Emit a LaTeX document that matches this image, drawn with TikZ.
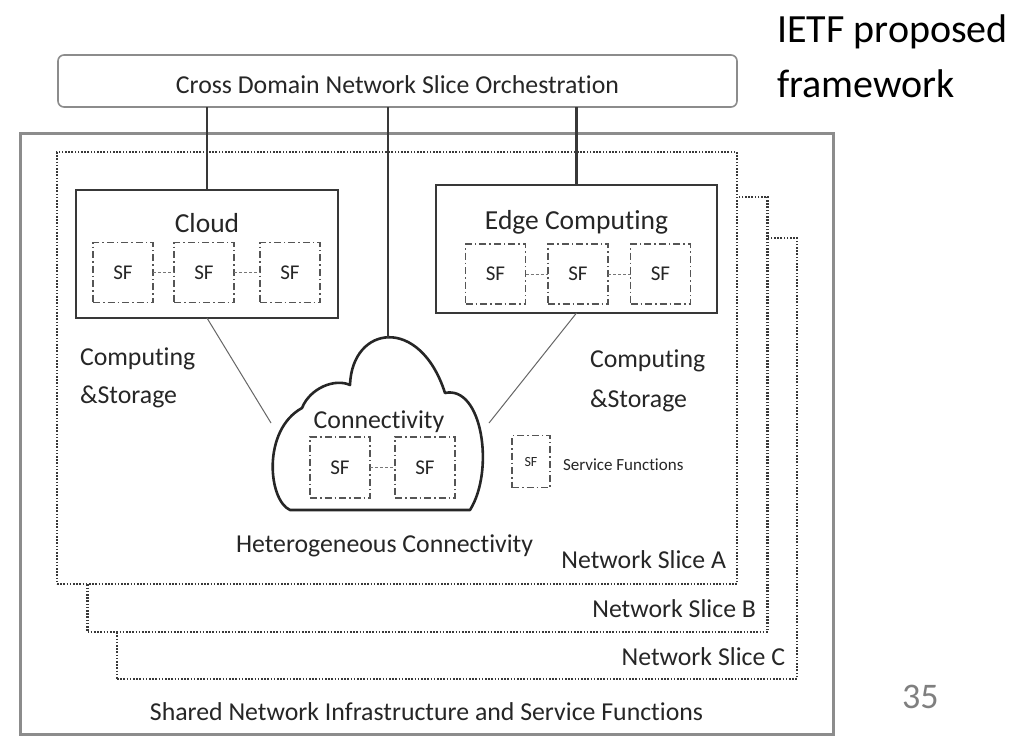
\documentclass[tikz,border=0pt]{standalone}
\usepackage{fontspec}
\setmainfont{Carlito}[Ligatures=NoCommon]
\definecolor{ink}{HTML}{262626}
\definecolor{frame}{HTML}{383838}
\definecolor{outerc}{HTML}{8C8C8C}
\definecolor{sfc}{HTML}{555555}
\definecolor{pgnum}{HTML}{7F7F7F}
\tikzset{
  lbl/.style={inner sep=0pt, outer sep=0pt, text=ink, font=\fontsize{25.8}{30}\selectfont},
  lblbig/.style={lbl, font=\fontsize{27.5}{32}\selectfont},
  lblsmall/.style={lbl, font=\fontsize{17}{20}\selectfont},
  outerbox/.style={draw=outerc, line width=3pt, inner sep=0pt, outer sep=0pt},
  slicebox/.style={draw=frame, fill=white, line width=2.3pt, dash pattern=on 1.6pt off 1.6pt, inner sep=0pt, outer sep=0pt, minimum width=680pt},
  orchbox/.style={draw=outerc, rounded corners=6pt, line width=1.6pt, inner sep=0pt, outer sep=0pt, minimum width=679pt, minimum height=52pt},
  compbox/.style={draw=frame, line width=2.4pt, inner sep=0pt, outer sep=0pt, minimum height=128pt},
  sfbox/.style={draw=sfc, line width=1.2pt, dash pattern=on 7pt off 3pt on 1.5pt off 3pt, inner sep=0pt, outer sep=0pt, minimum width=60pt, minimum height=60pt, text=ink, font=\fontsize{21}{24}\selectfont},
  sfline/.style={draw=sfc!80, line width=1pt, dash pattern=on 3pt off 2pt},
  conn/.style={draw=frame, line width=2.6pt},
  thinline/.style={draw=black!60, line width=1pt},
  cloudline/.style={draw=ink, line width=2.6pt, line join=round}
}
\begin{document}
\begin{tikzpicture}[x=1pt,y=-1pt]
\useasboundingbox (0,0) rectangle (1031,736);
\fill[white] (0,0) rectangle (1031,736);
% frames
\node[outerbox, minimum width=813pt, minimum height=601pt] (infra) at (426.5,433.5) {};
\node[slicebox, minimum height=441pt] (slC) at (457,458.5) {};
\node[slicebox, minimum height=435pt] (slB) at (427.5,414.5) {};
\node[slicebox, minimum height=432pt] (slA) at (397,368) {};
\node[orchbox] (orch) at (397.5,81) {};
\node[compbox, minimum width=262pt] (cloudbox) at (207,254) {};
\node[compbox, minimum width=281pt] (edgebox) at (576.5,249) {};
% connectivity cloud
\coordinate (ctop) at (388,337.5);
\coordinate (cleft) at (271,423);
\coordinate (cright) at (489,423);
\draw[cloudline, fill=white] (290,510) .. controls (268,500) and (262,430) .. (302,408)
  .. controls (310,388) and (335,378) .. (350,385)
  .. controls (352,325) and (420,315) .. (445,393)
  .. controls (482,385) and (495,470) .. (470,510) -- cycle;
% connectors
\draw[conn] (cloudbox.north) -- (cloudbox.north |- orch.south);
\draw[conn] (ctop) -- (ctop |- orch.south);
\draw[conn] (edgebox.north) -- (edgebox.north |- orch.south);
\draw[thinline] (cloudbox.south) -- (cleft);
\draw[thinline] (edgebox.south) -- (cright);
% SF boxes
\node[sfbox] (c1) at (123,272.5) {SF};
\node[sfbox] (c2) at (204,272.5) {SF};
\node[sfbox] (c3) at (290,272.5) {SF};
\node[sfbox] (e1) at (495.5,274) {SF};
\node[sfbox] (e2) at (578,274) {SF};
\node[sfbox] (e3) at (660.5,274) {SF};
\node[sfbox, minimum height=61pt] (k1) at (340,467.5) {SF};
\node[sfbox, minimum height=61pt] (k2) at (425,467.5) {SF};
\node[sfbox, minimum width=38pt, minimum height=52pt, font=\fontsize{14}{16}\selectfont] (leg) at (531,461.5) {SF};
\draw[sfline] (c1.east) -- (c2.west);
\draw[sfline] (c2.east) -- (c3.west);
\draw[sfline] (e1.east) -- (e2.west);
\draw[sfline] (e2.east) -- (e3.west);
\draw[sfline] (k1.east) -- (k2.west);
% labels
\node[lbl, anchor=base] (orchtxt) at (397.5,93) {Cross Domain Network Slice Orchestration};
\node[lblbig, anchor=base] (cloudtxt) at (207,232) {Cloud};
\node[lblbig, anchor=base] (edgetxt) at (576.5,229) {Edge Computing};
\node[lbl, anchor=base west] (csl1) at (80,365) {Computing};
\node[lbl, anchor=base west] (csl2) at (80,403) {\&Storage};
\node[lbl, anchor=base west] (csr1) at (590,367) {Computing};
\node[lbl, anchor=base west] (csr2) at (590,407) {\&Storage};
\node[lbl, anchor=base] (conntxt) at (379,428) {Connectivity};
\node[lblsmall, anchor=base west] (legtxt) at (563,470) {Service Functions};
\node[lbl, anchor=base west] (hettxt) at (236,552) {Heterogeneous Connectivity};
\node[lbl, anchor=base east] (sAtxt) at (726,568) {Network Slice A};
\node[lbl, anchor=base east] (sBtxt) at (756,617) {Network Slice B};
\node[lbl, anchor=base east] (sCtxt) at (785,665) {Network Slice C};
\node[lbl, anchor=base] (infratxt) at (426.5,720) {Shared Network Infrastructure and Service Functions};
% slide text
\node[inner sep=0pt, anchor=base west, font=\fontsize{40}{48}\selectfont] (title1) at (777,42) {IETF proposed};
\node[inner sep=0pt, anchor=base west, font=\fontsize{40}{48}\selectfont] (title2) at (777,97) {framework};
\node[inner sep=0pt, anchor=base west, text=pgnum, font=\fontsize{36}{40}\selectfont] (pagenum) at (902,708) {35};
\end{tikzpicture}
\end{document}
